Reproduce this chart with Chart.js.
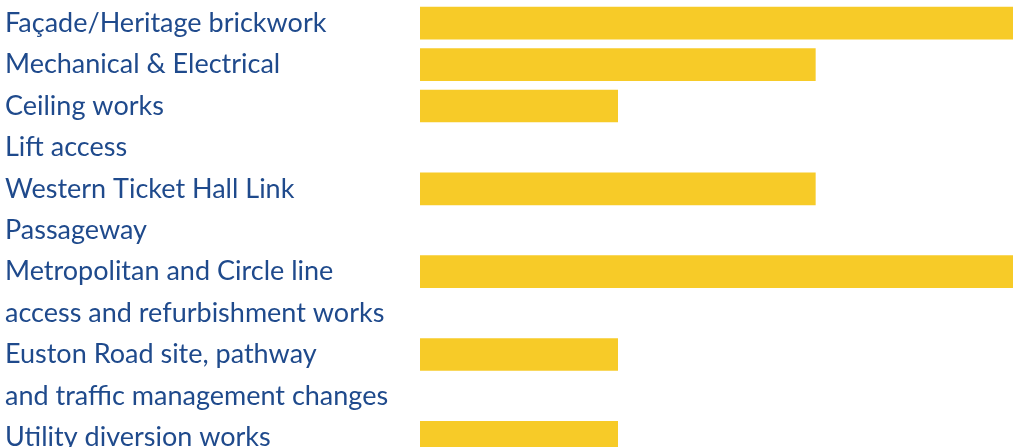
<!DOCTYPE html>
<html>
<head>
<meta charset="utf-8">
<script src="https://cdn.jsdelivr.net/npm/chart.js@4/dist/chart.umd.min.js"></script>
<style>
  html, body { margin: 0; padding: 0; background: #fff; overflow: hidden; }
  #wrap { width: 1023px; height: 458px; }
</style>
</head>
<body>
<div id="wrap"><canvas id="barChart"></canvas></div>
<script>
// Work streams (line breaks as in the original labels)
const categories = [
    'Façade/Heritage brickwork',
    'Mechanical & Electrical',
    'Ceiling works',
    'Lift access',
    'Western Ticket Hall Link\nPassageway',
    'Metropolitan and Circle line\naccess and refurbishment works',
    'Euston Road site, pathway\nand traffic management changes',
    'Utility diversion works'
];
// Progress values (max = 3)
const values = [3, 2, 1, 0, 2, 3, 1, 1];
const maxValue = 3;

// Each text line gets its own row so the bar sits on the first line of its label
const rowLabels = [];
const rowValues = [];
categories.forEach((cat, i) => {
    cat.split('\n').forEach((line, j) => {
        rowLabels.push(line);
        rowValues.push(j === 0 ? values[i] : null);
    });
});

const config = {
    type: 'bar',
    data: {
        labels: rowLabels,
        datasets: [{
            label: 'Progress',
            data: rowValues,
            // no sliver for an empty bar
            backgroundColor: (c) => (c.raw ? '#F7CB28' : 'rgba(0,0,0,0)'),
            borderWidth: 0,
            barThickness: 32
        }]
    },
    options: {
        indexAxis: 'y',
        responsive: true,
        maintainAspectRatio: false,
        animation: false,
        layout: { padding: { left: 5, right: 10, top: 2.5, bottom: 0 } },
        plugins: {
            legend: { display: false },
            tooltip: { enabled: false }
        },
        scales: {
            x: {
                display: false,
                min: 0,
                max: maxValue
            },
            y: {
                grid: { display: false },
                border: { display: false },
                ticks: {
                    crossAlign: 'far',
                    color: '#1F4A8C',
                    font: { family: 'Lato', size: 27 },
                    autoSkip: false
                },
                afterFit: function(scale) {
                    scale.width = 415;
                    scale.paddingTop = 0;
                    scale.paddingBottom = 0;
                }
            }
        }
    }
};

const ctx = document.getElementById('barChart').getContext('2d');
const myBarChart = new Chart(ctx, config);
</script>
</body>
</html>
